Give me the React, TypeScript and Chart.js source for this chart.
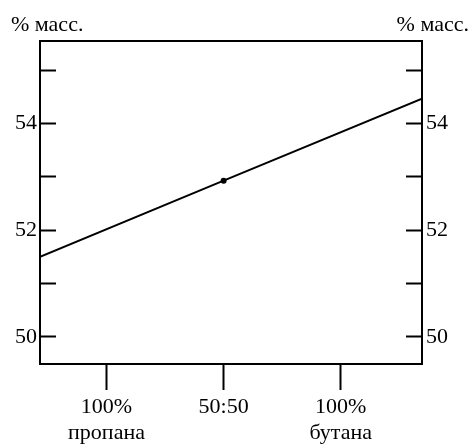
import React, { useEffect, useRef } from "react";
import { Chart, registerables } from "chart.js";

Chart.register(...registerables);

// Composition axis: 0 = pure propane, 100 = pure butane
const xMin = -28.4;
const xMax = 134.7;
const xTickValues = [0, 50, 100];
const xTickLabels: string[][] = [["100%", "пропана"], ["50:50"], ["100%", "бутана"]];

// Yield, % by mass
const yMin = 49.49;
const yMax = 55.55;
const yTickValues = [50, 51, 52, 53, 54, 55];

// The line and its marked 50:50 point
const lineX = [-28.4, 50, 134.7];
const lineY = [51.5, 52.93, 54.47];
const pointSizes = [0, 3, 0];

const unitLabel = "% масс.";
const FONT = "Liberation Serif";
const FONT_SIZE = 22;

const frame = {
  id: "frame",
  afterDraw(chart: Chart) {
    const { ctx, chartArea } = chart;
    ctx.save();
    ctx.strokeStyle = "#000";
    ctx.lineWidth = 2;
    ctx.beginPath();
    ctx.moveTo(chartArea.left - 1, chartArea.top);
    ctx.lineTo(chartArea.right + 1, chartArea.top);
    ctx.stroke();
    ctx.fillStyle = "#000";
    ctx.font = `${FONT_SIZE}px "${FONT}"`;
    ctx.textBaseline = "alphabetic";
    ctx.textAlign = "left";
    ctx.fillText(unitLabel, chartArea.left - 29, 31);
    ctx.textAlign = "right";
    ctx.fillText(unitLabel, chartArea.right + 47, 31);
    ctx.restore();
  },
};

export default function App() {
  const ref = useRef<HTMLCanvasElement | null>(null);

  useEffect(() => {
    if (!ref.current) return;
    const tickFont = { family: FONT, size: FONT_SIZE };
    const yLabel = (v: any) => (Number(v) % 2 === 0 ? String(v) : "");
    const yAxis = (position: "left" | "right", width: number, padding: number) => ({
      type: "linear" as const,
      position,
      min: yMin,
      max: yMax,
      afterBuildTicks: (s: any) => {
        s.ticks = yTickValues.map((value) => ({ value }));
      },
      afterFit: (s: any) => {
        s.width = width;
      },
      border: { color: "#000", width: 2 },
      grid: {
        drawOnChartArea: false,
        drawTicks: true,
        tickLength: -16,
        tickWidth: 2,
        tickColor: "#000",
      },
      ticks: {
        color: "#000",
        font: tickFont,
        padding,
        callback: yLabel,
      },
    });

    const chart = new Chart(ref.current, {
      type: "line",
      data: {
        datasets: [
          {
            data: lineX.map((x, i) => ({ x, y: lineY[i] })),
            borderColor: "#000",
            backgroundColor: "#000",
            borderWidth: 2,
            pointRadius: pointSizes,
            pointBorderWidth: 0,
            fill: false,
            tension: 0,
          },
        ],
      },
      options: {
        animation: false,
        responsive: false,
        devicePixelRatio: 1,
        layout: { padding: { top: 41, left: 0, right: 0, bottom: 0 } },
        plugins: { legend: { display: false }, tooltip: { enabled: false } },
        scales: {
          x: {
            type: "linear",
            min: xMin,
            max: xMax,
            afterBuildTicks: (s: any) => {
              s.ticks = xTickValues.map((value) => ({ value }));
            },
            afterFit: (s: any) => {
              s.height = 81;
            },
            border: { color: "#000", width: 2 },
            grid: {
              drawOnChartArea: false,
              drawTicks: true,
              tickLength: 26,
              tickWidth: 2,
              tickColor: "#000",
            },
            ticks: {
              color: "#000",
              font: { ...tickFont, lineHeight: 1.15 },
              padding: 5,
              maxRotation: 0,
              autoSkip: false,
              callback: (v: any) => {
                const i = xTickValues.indexOf(Number(v));
                return i >= 0 ? xTickLabels[i] : "";
              },
            },
          },
          y: yAxis("left", 40, 19),
          y2: yAxis("right", 52, 20),
        },
      },
      plugins: [frame],
    });
    return () => chart.destroy();
  }, []);

  return (
    <div style={{ position: "fixed", left: 0, top: 0, width: 474, height: 445, background: "#fff" }}>
      <canvas ref={ref} width={474} height={445} />
    </div>
  );
}
